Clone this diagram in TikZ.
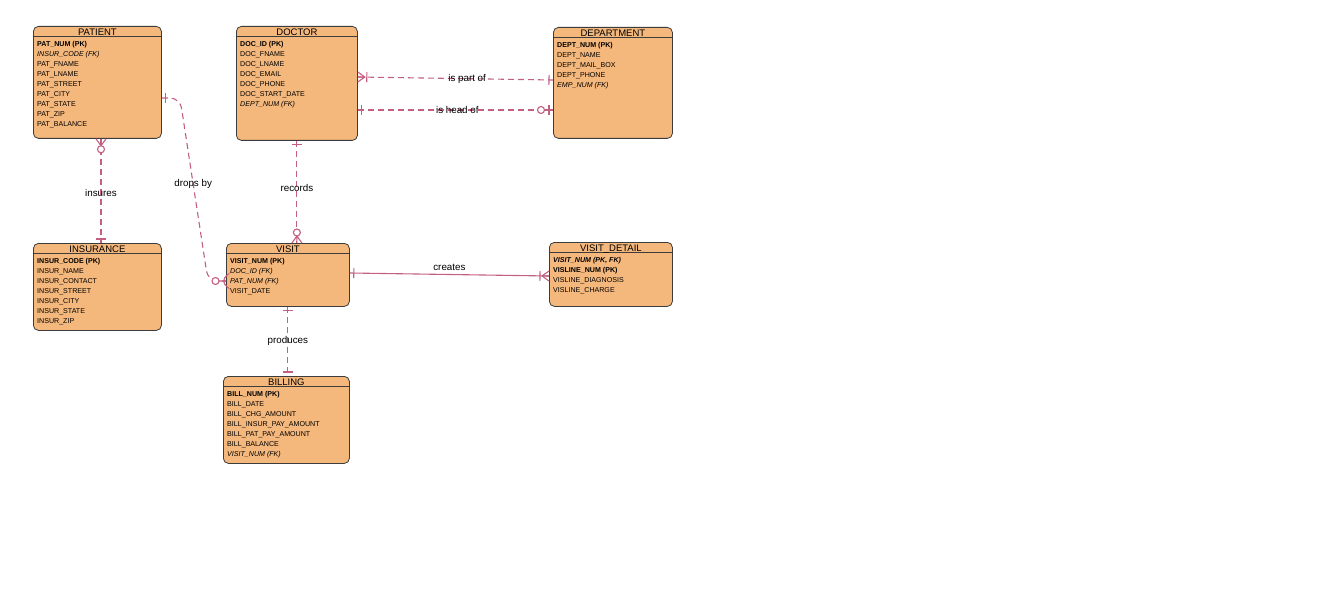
\documentclass[tikz,border=0pt]{standalone}
\usepackage{fontspec}
\setmainfont{Liberation Sans}
\usetikzlibrary{decorations.markings}
\definecolor{boxfill}{HTML}{F4B77C}
\definecolor{boxline}{HTML}{3C3C3C}
\definecolor{relcol}{HTML}{C25F82}
% ends of a relation: the box lies towards +x
\newcommand{\onemark}{\draw[solid] (-4,-5) -- (-4,5);}
\newcommand{\zeroonemark}{\draw[solid] (-4,-5) -- (-4,5) (-8.5,0) -- (-4,0);
  \draw[solid,fill=white] (-12,0) circle (3.5pt);}
\newcommand{\manymark}{\draw[solid] (0,-5) -- (-7,0) -- (0,5) (-7,0) -- (0,0);}
\newcommand{\onemanymark}{\manymark\draw[solid] (-9,-5) -- (-9,5);}
\newcommand{\zeromanymark}{\manymark\draw[solid,fill=white] (-10.5,0) circle (3.5pt);}
% #1 name, #2 x, #3 y, #4 width, #5 height, #6 title, #7 rows
\newcommand{\entity}[7]{%
  \node[entbox, minimum width=#4pt, minimum height=#5pt] (#1) at (#2,#3) {};
  \draw[boxline, line width=0.8pt] ([yshift=-10.5pt]#1.north west) -- ([yshift=-10.5pt]#1.north east);
  \node[enttitle] at ([yshift=-5.8pt]#1.north) {#6};
  \node[entrows] at ([xshift=2pt,yshift=-13.5pt]#1.north west) {#7};
}
\begin{document}
\begin{tikzpicture}[x=1pt,y=-1pt]
\tikzset{entbox/.style={draw=boxline,fill=boxfill,rounded corners=5pt,line width=0.8pt,anchor=north west,inner sep=0pt},
  enttitle/.style={font=\fontsize{9.5}{11}\selectfont,text=black,inner sep=0pt,text height=6.5pt,text depth=0pt},
  entrows/.style={anchor=north west,align=left,inner sep=2pt,font=\fontsize{7.1}{10}\selectfont,text=black},
  rel/.style={color=relcol,line width=1.1pt},
  reldash/.style={dash pattern=on 6pt off 4pt},
  atstart/.style={postaction={decorate,decoration={markings,mark=at position 0 with {\pgftransformrotate{180}#1}}}},
  atend/.style={postaction={decorate,decoration={markings,mark=at position 1 with {#1}}}},
  lbl/.style={font=\fontsize{9.8}{11}\selectfont,text=black,inner sep=1pt}}
\useasboundingbox (0,0) rectangle (1341,604);
\entity{patient}{33}{26}{128}{112}{PATIENT}{\textbf{PAT\_NUM (PK)}\\\textit{INSUR\_CODE (FK)}\\PAT\_FNAME\\PAT\_LNAME\\PAT\_STREET\\PAT\_CITY\\PAT\_STATE\\PAT\_ZIP\\PAT\_BALANCE}
\entity{doctor}{236}{26}{121}{114}{DOCTOR}{\textbf{DOC\_ID (PK)}\\DOC\_FNAME\\DOC\_LNAME\\DOC\_EMAIL\\DOC\_PHONE\\DOC\_START\_DATE\\\textit{DEPT\_NUM (FK)}}
\entity{department}{553}{27}{119}{111}{DEPARTMENT}{\textbf{DEPT\_NUM (PK)}\\DEPT\_NAME\\DEPT\_MAIL\_BOX\\DEPT\_PHONE\\\textit{EMP\_NUM (FK)}}
\entity{insurance}{33}{243}{128}{87}{INSURANCE}{\textbf{INSUR\_CODE (PK)}\\INSUR\_NAME\\INSUR\_CONTACT\\INSUR\_STREET\\INSUR\_CITY\\INSUR\_STATE\\INSUR\_ZIP}
\entity{visit}{226}{243}{123}{63}{VISIT}{\textbf{VISIT\_NUM (PK)}\\\textit{DOC\_ID (FK)}\\\textit{PAT\_NUM (FK)}\\VISIT\_DATE}
\entity{visitdetail}{549}{242}{123}{64}{VISIT\_DETAIL}{\textbf{\textit{VISIT\_NUM (PK, FK)}}\\\textbf{VISLINE\_NUM (PK)}\\VISLINE\_DIAGNOSIS\\VISLINE\_CHARGE}
\entity{billing}{223}{376}{126}{87}{BILLING}{\textbf{BILL\_NUM (PK)}\\BILL\_DATE\\BILL\_CHG\_AMOUNT\\BILL\_INSUR\_PAY\_AMOUNT\\BILL\_PAT\_PAY\_AMOUNT\\BILL\_BALANCE\\\textit{VISIT\_NUM (FK)}}
% relations
\draw[rel,reldash,atstart=\onemanymark,atend=\onemark] (doctor.east |- 0,77) -- node[lbl,pos=0.56] {is part of} (department.west |- 0,80);
\draw[rel,reldash,atstart=\onemark,atend=\zeroonemark] (doctor.east |- 0,110) -- node[lbl,pos=0.51] {is head of} (department.west |- 0,110);
\draw[rel,reldash,atstart=\zeromanymark,atend=\onemark] (101,0 |- patient.south) -- node[lbl,pos=0.52] {insures} (101,0 |- insurance.north);
\draw[rel,reldash,rounded corners=10pt,atstart=\onemark,atend=\zeromanymark] (patient.east |- 0,98) -- (180,98) -- node[lbl,pos=0.47] {drops by} (208,281) -- (visit.west |- 0,281);
\draw[rel,reldash,atstart=\onemark,atend=\zeromanymark] (doctor.south) -- node[lbl,pos=0.46] {records} (doctor.south |- visit.north);
\draw[rel,atstart=\onemark,atend=\onemanymark] (visit.east |- 0,273) -- node[lbl,above=2pt] {creates} (visitdetail.west |- 0,276);
\draw[rel,reldash,atstart=\onemark,atend=\onemark] (visit.south) -- node[lbl] {produces} (visit.south |- billing.north);
\end{tikzpicture}
\end{document}
